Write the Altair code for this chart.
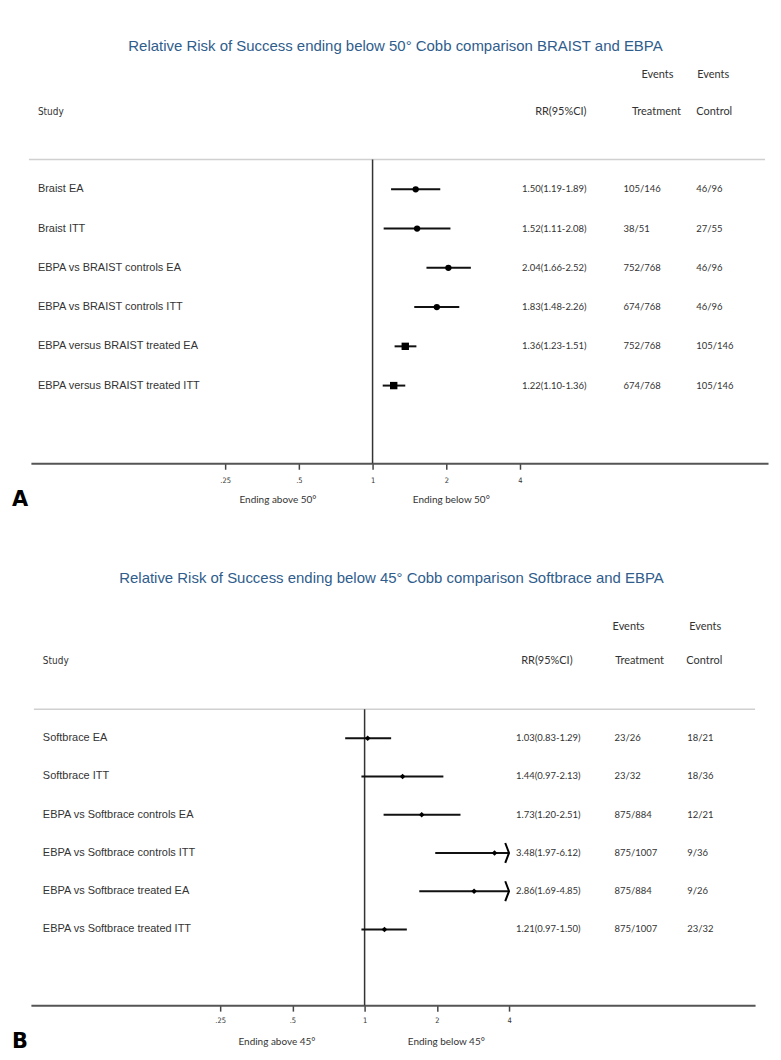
import altair as alt
import pandas as pd

# ---------------- data ----------------
tick_values = [0.25, 0.5, 1, 2, 4]
tick_labels = [".25", ".5", "1", "2", "4"]
header_events = "Events"
header_cols = ["Study", "RR(95%CI)", "Treatment", "Control"]

a_title = "Relative Risk of Success ending below 50° Cobb comparison BRAIST and EBPA"
a_studies = ["Braist EA", "Braist ITT", "EBPA vs BRAIST controls EA",
             "EBPA vs BRAIST controls ITT", "EBPA versus BRAIST treated EA",
             "EBPA versus BRAIST treated ITT"]
a_rr = [1.50, 1.52, 2.04, 1.83, 1.36, 1.22]
a_lo = [1.19, 1.11, 1.66, 1.48, 1.23, 1.10]
a_hi = [1.89, 2.08, 2.52, 2.26, 1.51, 1.36]
a_treat = ["105/146", "38/51", "752/768", "674/768", "752/768", "674/768"]
a_ctrl = ["46/96", "27/55", "46/96", "46/96", "105/146", "105/146"]
a_sides = ["Ending above 50°", "Ending below 50°"]

b_title = "Relative Risk of Success ending below 45° Cobb comparison Softbrace and EBPA"
b_studies = ["Softbrace EA", "Softbrace ITT", "EBPA vs Softbrace controls EA",
             "EBPA vs Softbrace controls ITT", "EBPA vs Softbrace treated EA",
             "EBPA vs Softbrace treated ITT"]
b_rr = [1.03, 1.44, 1.73, 3.48, 2.86, 1.21]
b_lo = [0.83, 0.97, 1.20, 1.97, 1.69, 0.97]
b_hi = [1.29, 2.13, 2.51, 6.12, 4.85, 1.50]
b_treat = ["23/26", "23/32", "875/884", "875/1007", "875/884", "875/1007"]
b_ctrl = ["18/21", "18/36", "12/21", "9/36", "9/26", "23/32"]
b_sides = ["Ending above 45°", "Ending below 45°"]

# ---------------- styling ----------------
TXT = "#333333"
BLUE = "#2f5d8c"
SANS = "Liberation Sans, Arial, sans-serif"
CAL = "Lato, Liberation Sans, sans-serif"
NARROW = "Liberation Sans Narrow, DejaVu Sans Condensed, sans-serif"

label_expr = " : ".join(
    f"datum.value == {v} ? '{l}'" for v, l in zip(tick_values, tick_labels)
) + " : datum.label"


def text_at(s, x, y, size=11, font=CAL, align="left", color=TXT, weight="normal"):
    return alt.Chart(pd.DataFrame({"t": [s]})).mark_text(
        align=align, baseline="middle", fontSize=size, font=font,
        color=color, fontWeight=weight
    ).encode(text="t:N", x=alt.value(x), y=alt.value(y))


def panel(title, studies, rr, lo, hi, treat, ctrl, sides, letter, g):
    n = len(studies)
    df = pd.DataFrame({
        "study": studies, "row": list(range(n)),
        "rr": rr, "lo": lo, "hi": hi, "treat": treat, "ctrl": ctrl,
        "rrci": [f"{r:.2f}({l:.2f}-{h:.2f})" for r, l, h in zip(rr, lo, hi)],
    })
    W, H = g["w"], g["h"]
    xmax_tick = max(tick_values)
    xs = alt.Scale(type="log", base=2, nice=False,
                   domain=[2 ** (-g["x1"] / g["ppd"]), 2 ** ((W - g["x1"]) / g["ppd"])])
    ys = alt.Scale(domain=[-g["r0"] / g["rs"], (H - g["r0"]) / g["rs"]],
                   reverse=True, nice=False, zero=False)
    Y = alt.Y("row:Q", scale=ys, axis=None)

    base = alt.Chart(df).transform_calculate(
        hic=f"min(datum.hi, {xmax_tick})"
    )

    topline = alt.Chart(pd.DataFrame({"a": [0]})).mark_rule(
        color="#d0d0d0", strokeWidth=1.5
    ).encode(x=alt.value(g["tl0"]), x2=alt.value(g["tl1"]), y=alt.value(0))

    ci = base.mark_rule(color="#111111", strokeWidth=2).encode(
        x=alt.X("lo:Q", scale=xs, axis=alt.Axis(
            values=tick_values, labelExpr=label_expr, title=None, grid=False,
            tickSize=6, tickWidth=1.5, tickColor="#444444",
            domainColor="#555555", domainWidth=2,
            labelFont=NARROW, labelFontSize=7.5, labelColor=TXT,
            labelPadding=g["lp"], labelFlush=False, labelOverlap=False)),
        x2="hic:Q", y=Y)

    ref = alt.Chart(pd.DataFrame({"a": [0]})).mark_rule(
        color="#333333", strokeWidth=1.5
    ).encode(x=alt.datum(1, scale=xs), y=alt.value(0), y2=alt.value(H))

    layers = [topline, ref, ci]
    if g["squares"]:
        layers.append(base.transform_filter(f"datum.row < {n - 2}").mark_point(
            shape="circle", filled=True, color="#000", size=40, opacity=1
        ).encode(x=alt.X("rr:Q", scale=xs), y=Y))
        layers.append(base.transform_filter(f"datum.row >= {n - 2}").mark_point(
            shape="square", filled=True, color="#000", size=55, opacity=1
        ).encode(x=alt.X("rr:Q", scale=xs), y=Y))
    else:
        layers.append(base.mark_point(
            shape="diamond", filled=True, color="#000", size=32, opacity=1
        ).encode(x=alt.X("rr:Q", scale=xs), y=Y))
    layers.append(base.transform_filter(f"datum.hi > {xmax_tick}").mark_point(
        shape="M-0.38,-1L0,0L-0.38,1", filled=False, color="#000",
        strokeWidth=2, size=400, opacity=1
    ).encode(x=alt.X("hic:Q", scale=xs), y=Y))

    txt = dict(baseline="middle", color=TXT)
    layers.append(base.mark_text(align="left", fontSize=11, font=SANS, **txt).encode(
        text="study:N", x=alt.value(g["cs"]), y=Y))
    layers.append(base.mark_text(align="left", fontSize=9.5, font=CAL, **txt).encode(
        text="rrci:N", x=alt.value(g["crr"]), y=Y))
    layers.append(base.mark_text(align="left", fontSize=9.5, font=CAL, **txt).encode(
        text="treat:N", x=alt.value(g["ct"]), y=Y))
    layers.append(base.mark_text(align="left", fontSize=9.5, font=CAL, **txt).encode(
        text="ctrl:N", x=alt.value(g["cc"]), y=Y))

    hy = g["hy"]
    layers += [
        text_at(title, g["tx"], g["ty"], size=15, font=SANS, align="center", color=BLUE),
        text_at(header_events, g["ev"][0], g["ey"], size=11, align="center"),
        text_at(header_events, g["ev"][1], g["ey"], size=11, align="center"),
        text_at(header_cols[0], g["cs"], hy, size=10, font=NARROW, align="left"),
        text_at(header_cols[1], g["hrr"], hy, size=11, align="center"),
        text_at(header_cols[2], g["ht"], hy, size=11, align="center"),
        text_at(header_cols[3], g["hc"], hy, size=11, align="center"),
        text_at(sides[0], g["sx"][0], g["sy"], size=10, align="center"),
        text_at(sides[1], g["sx"][1], g["sy"], size=10, align="center"),
        text_at(letter, -19, g["sy"], size=21, font="DejaVu Sans", align="left",
                color="#000", weight="bold"),
    ]
    return alt.layer(*layers).properties(width=W, height=H)


geom_a = dict(w=740, h=305, x1=343, ppd=74, r0=30, rs=39.4, lp=7,
              tl0=-2, tl1=737, cs=7, crr=493, ct=595, cc=668,
              tx=366, ty=-114, ev=[629, 685], ey=-85, hy=-48,
              hrr=532, ht=628, hc=686, sx=[248, 422], sy=342, squares=True)
geom_b = dict(w=727, h=297, x1=335, ppd=72.5, r0=29, rs=38.4, lp=5,
              tl0=3, tl1=727, cs=12, crr=487, ct=586, cc=659,
              tx=362, ty=-132, ev=[600, 677], ey=-83, hy=-48,
              hrr=518, ht=611, hc=676, sx=[247, 417], sy=334, squares=False)

pa = panel(a_title, a_studies, a_rr, a_lo, a_hi, a_treat, a_ctrl, a_sides, "A", geom_a)
pb = panel(b_title, b_studies, b_rr, b_lo, b_hi, b_treat, b_ctrl, b_sides, "B", geom_b)

chart = alt.vconcat(pa, pb, spacing=61).properties(
    padding={"left": 4, "top": 29, "right": 5, "bottom": 5}
).configure(background="white").configure_view(stroke=None)

chart.save("out.html", embed_options={"renderer": "svg", "actions": False})
